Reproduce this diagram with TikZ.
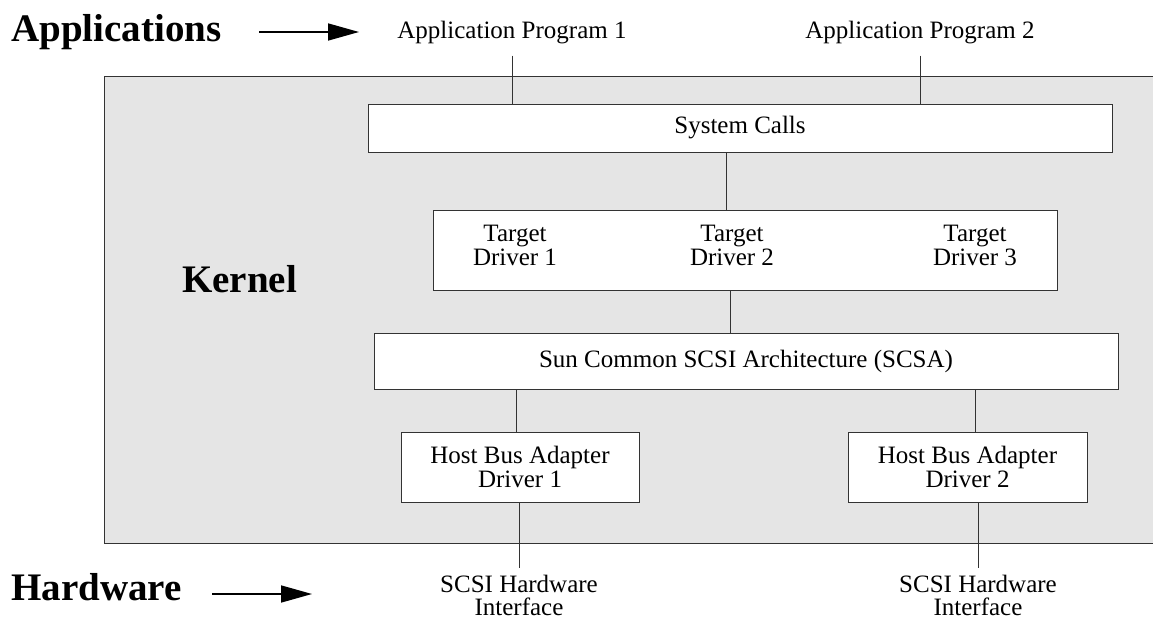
\documentclass[tikz,border=0pt]{standalone}
\usepackage{fontspec}
\setmainfont{Liberation Serif}
\usetikzlibrary{arrows.meta, positioning}

\begin{document}
\begin{tikzpicture}[
		x=1pt, y=-1pt,
		every node/.style={font=\fontsize{25}{24}\selectfont, inner sep=0pt},
		layer/.style={draw=black!80, line width=0.9pt, fill=white, align=center},
		side/.style={font=\fontsize{39}{40}\selectfont\bfseries, anchor=base west},
		ext/.style={align=center, inner ysep=11pt},
		link/.style={draw=black!80, line width=0.9pt},
		arr/.style={-{Triangle[length=31pt,width=17pt]}, line width=1.6pt, black}
		]
		\useasboundingbox (0,0) rectangle (1153,620);
		% kernel area
		\draw[black!80, line width=0.9pt, fill=black!10] (104,76) rectangle (1170,543);
		
		% Layers inside the kernel
		\node[layer, minimum width=744pt, minimum height=48pt] (sys) at (740,128) {System Calls};
		\node[layer, minimum width=624pt, minimum height=80pt] (tgt) at (745,250) {};
		\node[align=center] (tgt1) at (515,245.5) {Target\\Driver 1};
		\node[align=center] (tgt2) at (732,245.5) {Target\\Driver 2};
		\node[align=center] (tgt3) at (975,245.5) {Target\\Driver 3};
		\node[layer, minimum width=744pt, minimum height=56pt] (scsa) at (746,361) {Sun Common SCSI Architecture (SCSA)};
		\node[layer, minimum width=238pt, minimum height=70pt] (hba1) at (520,467) {Host Bus Adapter\\Driver 1};
		\node[layer, minimum width=239pt, minimum height=70pt] (hba2) at (967.5,467) {Host Bus Adapter\\Driver 2};
		
		% outside the kernel
		\node[ext] (app1) at (512,33) {Application Program 1};
		\node[ext] (app2) at (920,33) {Application Program 2};
		\node[align=center, font=\fontsize{25}{23}\selectfont] (hw1) at (519,595) {SCSI Hardware\\Interface};
		\node[align=center, font=\fontsize{25}{23}\selectfont] (hw2) at (978,595) {SCSI Hardware\\Interface};
		
		% denote
		\node[side] (apps) at (11,42) {Applications};
		\node[side] (kern) at (182,292) {Kernel};
		\node[side] (hwlab) at (11,600) {Hardware};
		\coordinate (appstail) at (259,32);
		\coordinate (appstip) at (359,32);
		\coordinate (hwtail) at (212,594);
		\coordinate (hwtip) at (312,594);
		\draw[arr] (appstail) -- (appstip);
		\draw[arr] (hwtail) -- (hwtip);
		
		% Draw the links
		\draw[link] (app1) -- (app1 |- sys.north);
		\draw[link] (app2) -- (app2 |- sys.north);
		\draw[link] ([xshift=-14pt]sys.south) -- ([xshift=-14pt]sys.south |- tgt.north);
		\draw[link] ([xshift=-15pt]tgt.south) -- ([xshift=-15pt]tgt.south |- scsa.north);
		\draw[link] ([xshift=-4pt]hba1.north |- scsa.south) -- ([xshift=-4pt]hba1.north);
		\draw[link] ([xshift=7.5pt]hba2.north |- scsa.south) -- ([xshift=7.5pt]hba2.north);
		\draw[link, shorten >=7pt] (hw1.north |- hba1.south) -- (hw1);
		\draw[link, shorten >=7pt] (hw2.north |- hba2.south) -- (hw2);
	\end{tikzpicture}
\end{document}
